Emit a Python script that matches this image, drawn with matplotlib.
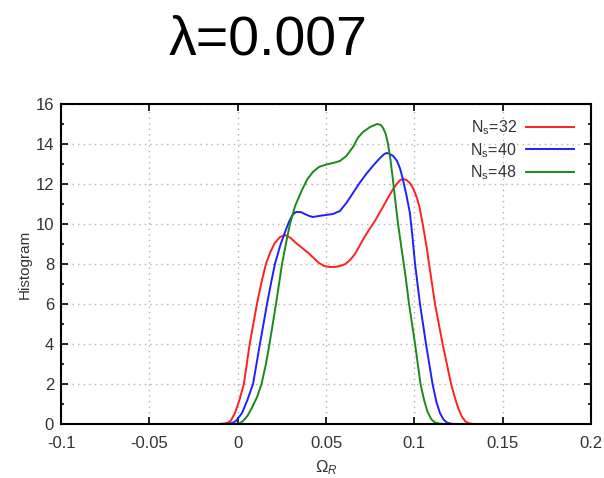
import numpy as np
import matplotlib.pyplot as plt
from matplotlib.ticker import MultipleLocator

## histogram of Omega_R for three lattice sizes at lambda = 0.007

omega_32 = [-0.10, -0.010, -0.006, -0.004, -0.0015, 0.001, 0.0035, 0.0068, 0.0109,
            0.0135, 0.016, 0.0185, 0.021, 0.024, 0.0268, 0.030, 0.033, 0.0365,
            0.040, 0.043, 0.046, 0.049, 0.052, 0.055, 0.058, 0.061, 0.0636,
            0.066, 0.068, 0.0705, 0.0732, 0.078, 0.0822, 0.086, 0.088, 0.090,
            0.092, 0.0935, 0.0955, 0.0975, 0.0995, 0.1015, 0.103, 0.1043, 0.1058,
            0.1072, 0.109, 0.1117, 0.116, 0.1208, 0.123, 0.125, 0.127, 0.129,
            0.131, 0.134, 0.20]
hist_32 = [0, 0, 0.05, 0.15, 0.55, 1.2, 2, 4, 6,
           7.1, 8, 8.6, 9.05, 9.35, 9.45, 9.3, 9.05, 8.8,
           8.55, 8.3, 8.05, 7.9, 7.85, 7.85, 7.9, 8.0, 8.2,
           8.45, 8.75, 9.15, 9.55, 10.2, 10.85, 11.45, 11.75, 12.0,
           12.2, 12.25, 12.2, 12.05, 11.75, 11.3, 10.8, 10.2, 9.45,
           8.7, 7.6, 6, 4, 2, 1.3, 0.75, 0.35, 0.12,
           0.03, 0, 0]

omega_40 = [-0.10, -0.006, -0.003, -0.001, 0.0025, 0.0055, 0.0087, 0.0126, 0.0166,
            0.019, 0.0211, 0.024, 0.0268, 0.029, 0.031, 0.033, 0.0355, 0.038,
            0.0405, 0.0426, 0.046, 0.050, 0.054, 0.0579, 0.0615, 0.0653, 0.069,
            0.0732, 0.077, 0.0806, 0.083, 0.0845, 0.086, 0.088, 0.0902, 0.092,
            0.0936, 0.0955, 0.0975, 0.099, 0.1004, 0.1032, 0.1066, 0.1103, 0.1125,
            0.1145, 0.1165, 0.1185, 0.121, 0.124, 0.20]
hist_40 = [0, 0, 0.05, 0.15, 0.55, 1.2, 2, 4, 6,
           7.1, 8, 8.9, 9.6, 10.1, 10.45, 10.6, 10.6, 10.5,
           10.4, 10.35, 10.4, 10.45, 10.5, 10.65, 11.05, 11.55, 12.05,
           12.55, 12.95, 13.3, 13.5, 13.55, 13.5, 13.4, 13.15, 12.75,
           12.2, 11.45, 10.55, 9.3, 8.0, 6, 4, 2, 1.1,
           0.55, 0.22, 0.07, 0.01, 0, 0]

omega_48 = [-0.10, 0.000, 0.0015, 0.003, 0.0055, 0.008, 0.011, 0.0135, 0.016,
            0.018, 0.0217, 0.0251, 0.0275, 0.0296, 0.0325, 0.0364, 0.0395, 0.0426,
            0.046, 0.050, 0.054, 0.0579, 0.0615, 0.0653, 0.068, 0.0709, 0.075,
            0.0789, 0.081, 0.0823, 0.0838, 0.0851, 0.0865, 0.0879, 0.0893, 0.0907,
            0.0927, 0.0947, 0.097, 0.1004, 0.1035, 0.1055, 0.1075, 0.1095, 0.1115,
            0.114, 0.117, 0.20]
hist_48 = [0, 0, 0.05, 0.15, 0.4, 0.8, 1.35, 2, 3.0,
           4, 6, 8, 9.1, 10.0, 10.9, 11.7, 12.25, 12.6,
           12.85, 12.97, 13.05, 13.15, 13.4, 13.85, 14.3, 14.6, 14.85,
           15.0, 14.95, 14.8, 14.5, 14.0, 13.2, 12.2, 11.1, 10.05,
           8.8, 7.6, 6, 4, 2, 1.2, 0.6, 0.25, 0.08,
           0.02, 0, 0]

labels = ["N$_\\mathregular{s}$=32", "N$_\\mathregular{s}$=40", "N$_\\mathregular{s}$=48"]
colors = ["#ff2020", "#2020ff", "#1a8a1a"]

plt.rcParams['font.family'] = ['Liberation Sans', 'DejaVu Sans']
plt.rcParams['mathtext.fontset'] = 'custom'
plt.rcParams['mathtext.rm'] = 'Liberation Sans'
plt.rcParams['mathtext.it'] = 'Liberation Sans:italic'

fig = plt.figure(figsize=(6.04, 4.78), dpi=100)
ax = fig.add_axes([0.101, 0.113, 0.8775, 0.6695])

for om, h, lab, c in zip([omega_32, omega_40, omega_48],
                         [hist_32, hist_40, hist_48], labels, colors):
    ax.plot(om, h, color=c, lw=1.4, label=lab, solid_joinstyle='round')

ax.set_xlim(-0.1, 0.2)
ax.set_ylim(0, 16)
ax.set_xticks([-0.1, -0.05, 0, 0.05, 0.1, 0.15, 0.2])
ax.set_xticklabels(["-0.1", "-0.05", "0", "0.05", "0.1", "0.15", "0.2"])
ax.yaxis.set_major_locator(MultipleLocator(2))
ax.yaxis.set_minor_locator(MultipleLocator(1))

ax.grid(True, which='major', color='#b0b0b0', linestyle=(0, (1, 3)), lw=1.0)
ax.tick_params(which='both', direction='in', top=True, right=True,
               labelsize=12, labelcolor='#333333', width=1.2)
ax.tick_params(which='major', length=5)
ax.tick_params(which='minor', length=2.5)
ax.tick_params(axis='x', which='major', pad=9)
ax.tick_params(axis='y', which='major', pad=5)
for sp in ax.spines.values():
    sp.set_linewidth(1.5)

ax.set_ylabel("Histogram", fontsize=11, color='#333333', labelpad=3)
ax.set_xlabel("$\\mathit{\\Omega}_\\mathit{R}$", fontsize=12, color='#333333', labelpad=5)

leg = ax.legend(loc='upper right', bbox_to_anchor=(0.98, 0.975), frameon=False,
                markerfirst=False, fontsize=11.5, handlelength=3.0,
                handletextpad=0.6, labelspacing=0.25, borderaxespad=0)
for t in leg.get_texts():
    t.set_color('#333333')

fig.text(0.444, 0.915, "λ=0.007", ha='center', va='center', fontsize=40)

fig.savefig("out.png", dpi=100)
